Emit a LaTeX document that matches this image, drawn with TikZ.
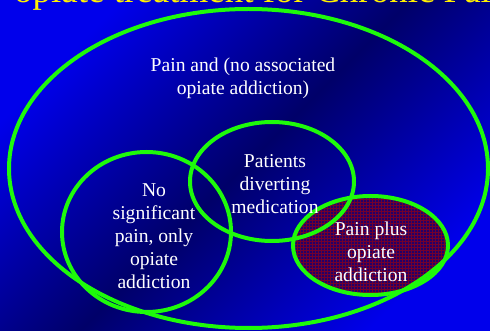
\documentclass[tikz,border=0pt]{standalone}
\usepackage{fontspec}
\setmainfont{Liberation Serif}
\usetikzlibrary{patterns}
\definecolor{bgbright}{RGB}{0,0,235}
\definecolor{bgdark}{RGB}{0,0,105}
\definecolor{setgreen}{RGB}{30,250,10}
\definecolor{titleyellow}{RGB}{255,240,0}
\definecolor{hatchbase}{RGB}{35,0,105}
\definecolor{hatchred}{RGB}{115,0,45}
\tikzset{
  setline/.style={setgreen,line width=4pt},
  setlabel/.style={white,align=center,font=\fontsize{19.6}{23}\selectfont,inner sep=0pt}
}
\begin{document}
\begin{tikzpicture}[x=1pt,y=-1pt]
\useasboundingbox (0,0) rectangle (490,331);
\clip (0,0) rectangle (490,331);
\shade[top color=bgbright,bottom color=bgbright,middle color=bgdark,shading angle=45] (0,0) rectangle (490,331);
\node[titleyellow,font=\fontsize{37}{42}\selectfont,anchor=base west,inner sep=0pt] (title) at (14,3) {opiate treatment for Chronic Pain};
\fill[hatchbase] (370.5,245.5) ellipse [x radius=77.5,y radius=49.5];
\fill[pattern=grid,pattern color=hatchred] (370.5,245.5) ellipse [x radius=77.5,y radius=49.5];
\draw[setline] (248.5,168.5) ellipse [x radius=239.5,y radius=159.5];
\draw[setline] (146.5,232) ellipse [x radius=84.5,y radius=80];
\draw[setline] (272,181.5) ellipse [x radius=82,y radius=59.5];
\draw[setline] (370.5,245.5) ellipse [x radius=77.5,y radius=49.5];
\node[setlabel] (painonly) at (243,78) {Pain and (no associated\\opiate addiction)};
\node[setlabel] (addictonly) at (154,236) {No\\significant\\pain, only\\opiate\\addiction};
\node[setlabel] (diverting) at (275,184) {Patients\\diverting\\medication};
\node[setlabel] (painplus) at (371,252) {Pain plus\\opiate\\addiction};
\end{tikzpicture}
\end{document}
